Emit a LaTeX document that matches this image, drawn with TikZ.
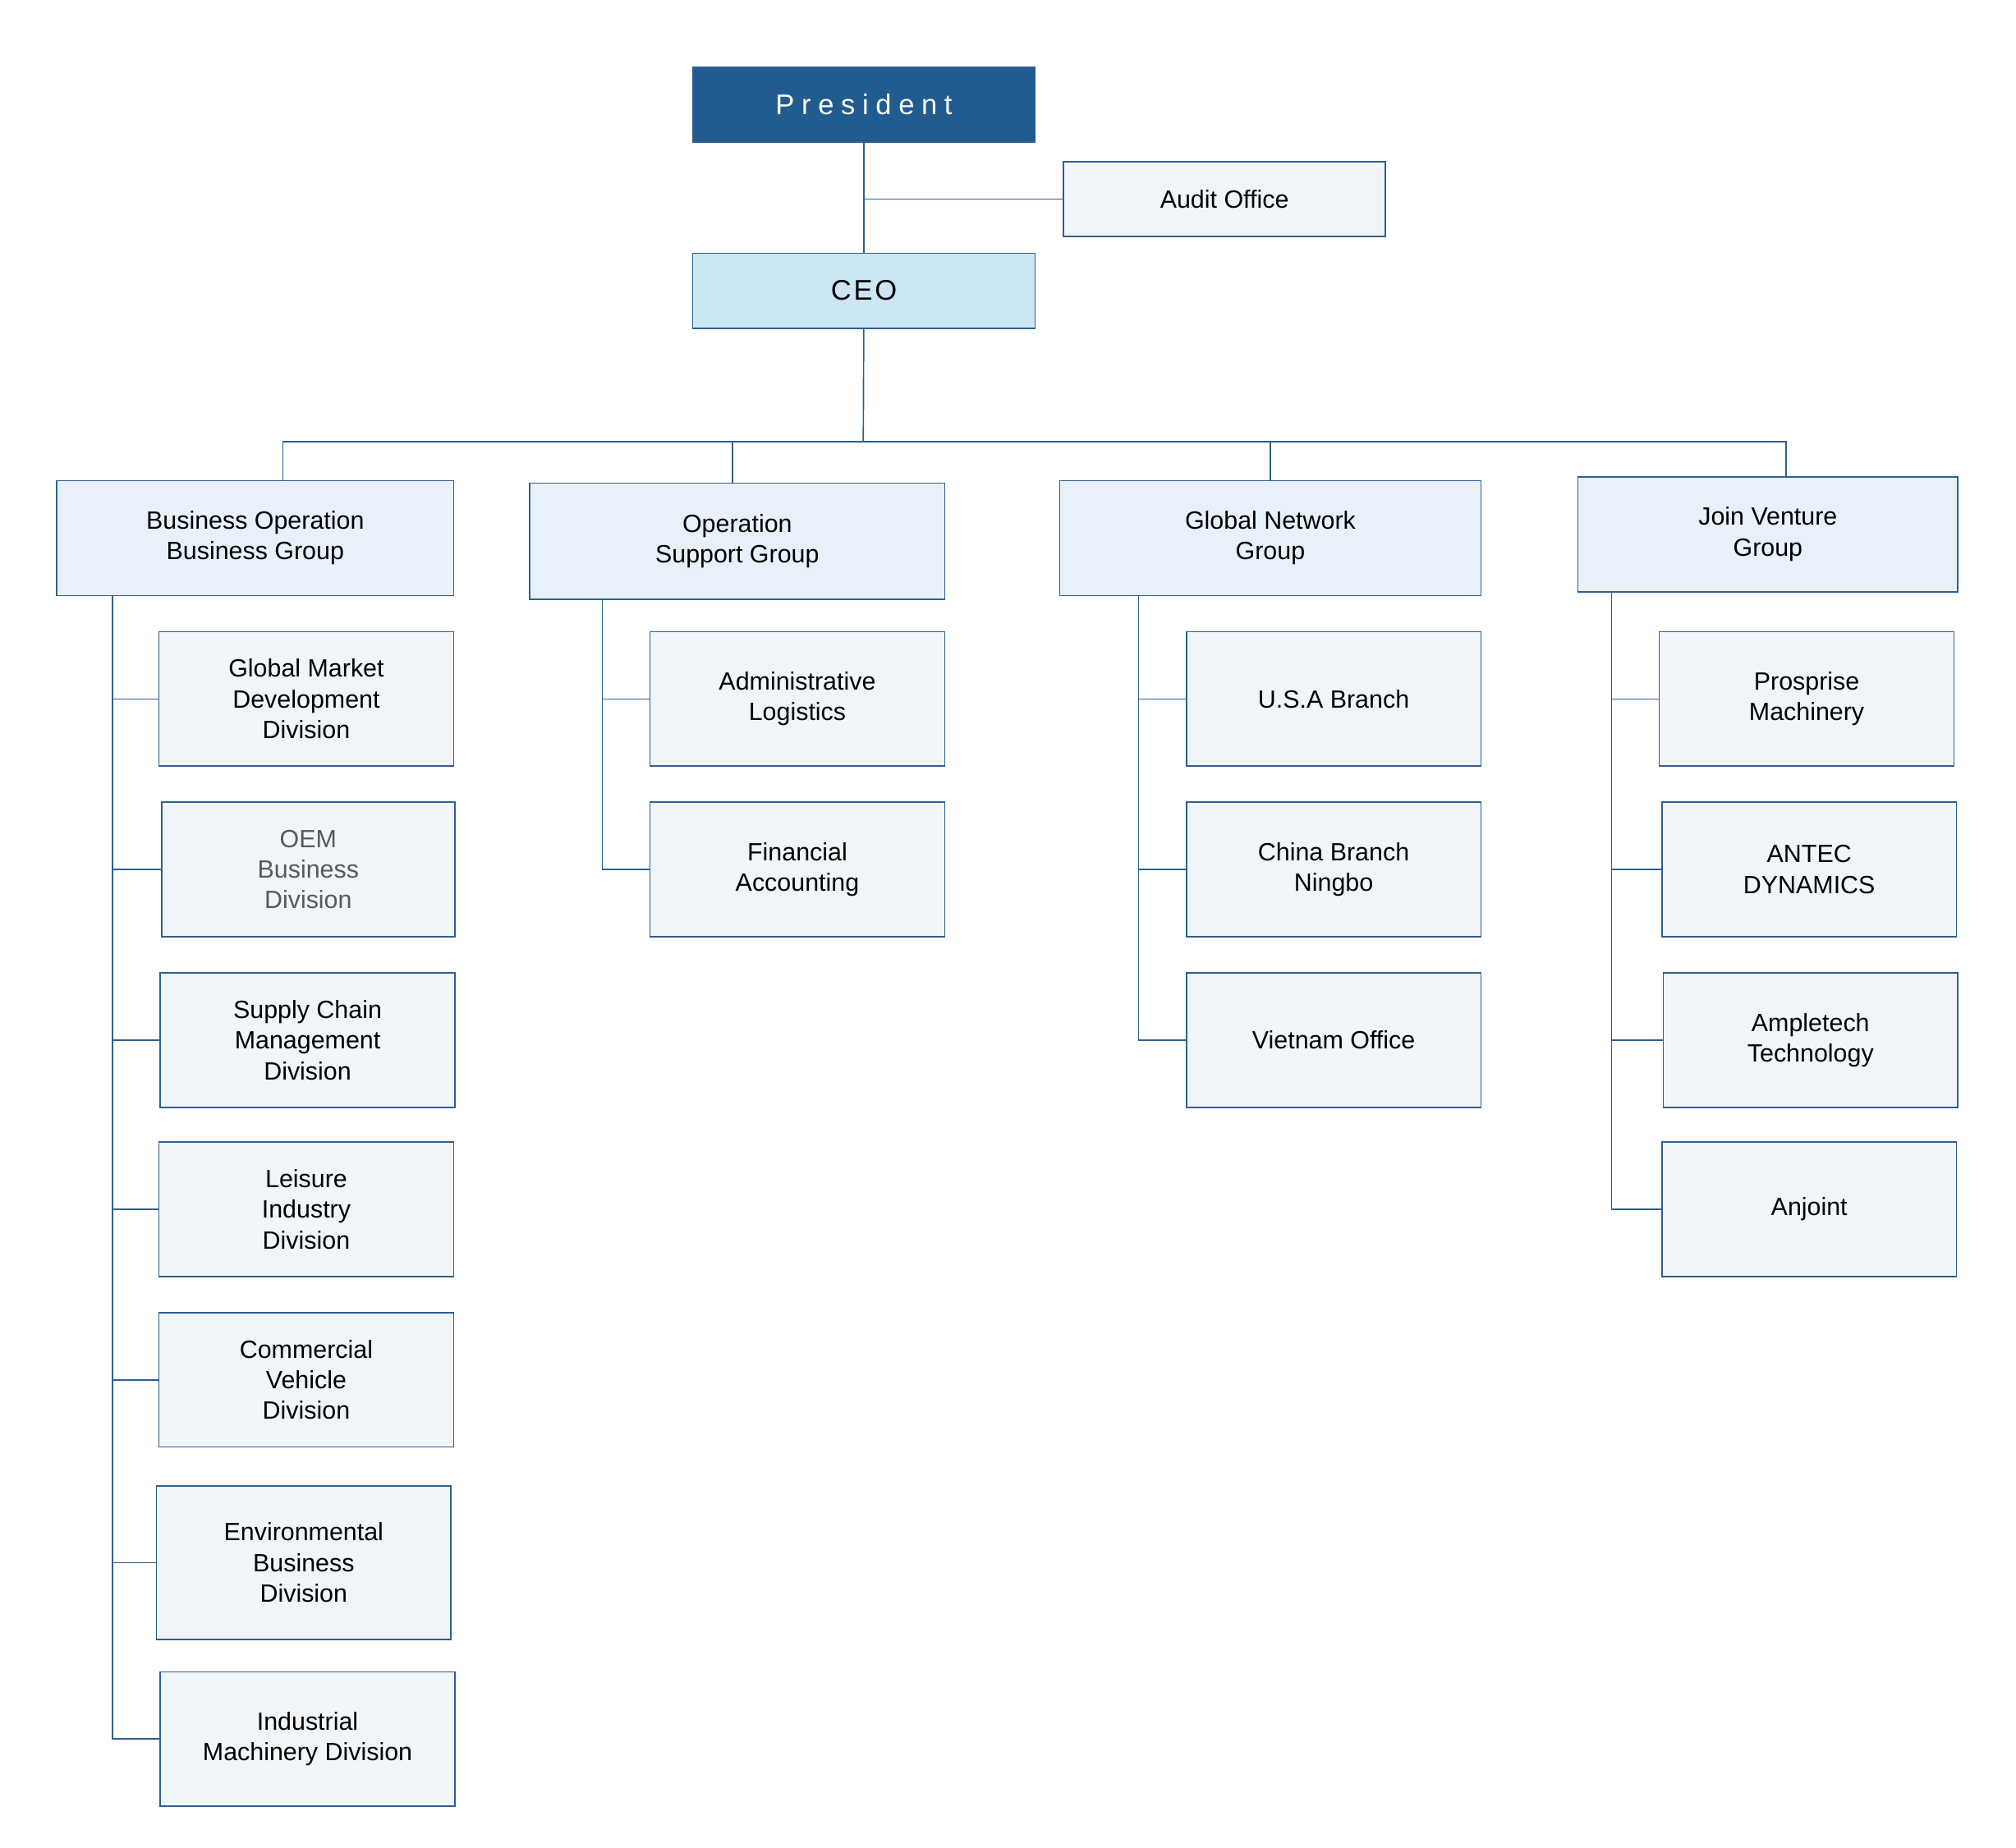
\documentclass[tikz,border=0pt]{standalone}
\usepackage{fontspec}
\setmainfont{Liberation Sans}
\definecolor{presblue}{RGB}{33,91,143}
\definecolor{ceoblue}{RGB}{205,230,244}
\definecolor{grpfill}{RGB}{232,241,250}
\definecolor{subfill}{RGB}{240,245,250}
\definecolor{edge}{RGB}{47,95,143}
\tikzset{
  box/.style={draw=edge,line width=0.6pt,align=center,inner sep=0pt,font=\fontsize{11}{13.5}\selectfont},
  grp/.style={box,fill=grpfill},
  sub/.style={box,fill=subfill},
  link/.style={draw=edge,line width=0.6pt}
}
\newcommand{\orgbox}[6]{% style, name, x1, y1, x2, y2 ; text after
  \node[#1,minimum width={(#5-#3)*0.02cm},minimum height={(#6-#4)*0.02cm}] (#2) at ({(#3+#5)/2},{(#4+#6)/2})}
\begin{document}
\begin{tikzpicture}[x=0.02cm,y=-0.02cm]
\useasboundingbox (0,0) rectangle (1560,1430);
% top
\orgbox{box,fill=presblue,text=white,font=\fontsize{12.5}{14}\selectfont}{pres}{536}{52}{801}{110} {\addfontfeatures{LetterSpace=25}President};
\orgbox{sub}{audit}{823}{125}{1072}{183} {Audit Office};
\orgbox{box,fill=ceoblue,font=\fontsize{12.5}{14}\selectfont}{ceo}{536}{196}{801}{254} {\addfontfeatures{LetterSpace=8}CEO};
% groups
\orgbox{grp}{bo}{44}{372}{351}{461} {Business Operation\\Business Group};
\orgbox{grp}{os}{410}{374}{731}{464} {Operation\\Support Group};
\orgbox{grp}{gn}{820}{372}{1146}{461} {Global Network\\Group};
\orgbox{grp}{jv}{1221}{369}{1515}{458} {Join Venture\\Group};
% business operation
\orgbox{sub}{bo1}{123}{489}{351}{593} {Global Market\\Development\\Division};
\orgbox{sub,text=black!65}{bo2}{125}{621}{352}{725} {OEM\\Business\\Division};
\orgbox{sub}{bo3}{124}{753}{352}{857} {Supply Chain\\Management\\Division};
\orgbox{sub}{bo4}{123}{884}{351}{988} {Leisure\\Industry\\Division};
\orgbox{sub}{bo5}{123}{1016}{351}{1120} {Commercial\\Vehicle\\Division};
\orgbox{sub}{bo6}{121}{1150}{349}{1269} {Environmental\\Business\\Division};
\orgbox{sub}{bo7}{124}{1294}{352}{1398} {Industrial\\Machinery Division};
% operation support
\orgbox{sub}{os1}{503}{489}{731}{593} {Administrative\\Logistics};
\orgbox{sub}{os2}{503}{621}{731}{725} {Financial\\Accounting};
% global network
\orgbox{sub}{gn1}{918}{489}{1146}{593} {U.S.A Branch};
\orgbox{sub}{gn2}{918}{621}{1146}{725} {China Branch\\Ningbo};
\orgbox{sub}{gn3}{918}{753}{1146}{857} {Vietnam Office};
% joint venture
\orgbox{sub}{jv1}{1284}{489}{1512}{593} {Prosprise\\Machinery};
\orgbox{sub}{jv2}{1286}{621}{1514}{725} {ANTEC\\DYNAMICS};
\orgbox{sub}{jv3}{1287}{753}{1515}{857} {Ampletech\\Technology};
\orgbox{sub}{jv4}{1286}{884}{1514}{988} {Anjoint};
% connectors
\coordinate (bus) at (668,342);
\coordinate (bosp) at (87,461);
\coordinate (ossp) at (466,464);
\coordinate (gnsp) at (881,461);
\coordinate (jvsp) at (1247,458);
\draw[link] (pres) -- (ceo);
\draw[link] (audit.west) -- (audit.west -| pres.south);
\draw[link] (ceo) -- (bus);
\foreach \g/\x in {bo/219,os/567,gn/983,jv/1382}
  \draw[link] (bus) -| (\g.north -| \x,0);
\foreach \c in {bo1,bo2,bo3,bo4,bo5,bo6,bo7}
  \draw[link] (bosp) |- (\c.west);
\foreach \c in {os1,os2}
  \draw[link] (ossp) |- (\c.west);
\foreach \c in {gn1,gn2,gn3}
  \draw[link] (gnsp) |- (\c.west);
\foreach \c in {jv1,jv2,jv3,jv4}
  \draw[link] (jvsp) |- (\c.west);
\end{tikzpicture}
\end{document}
